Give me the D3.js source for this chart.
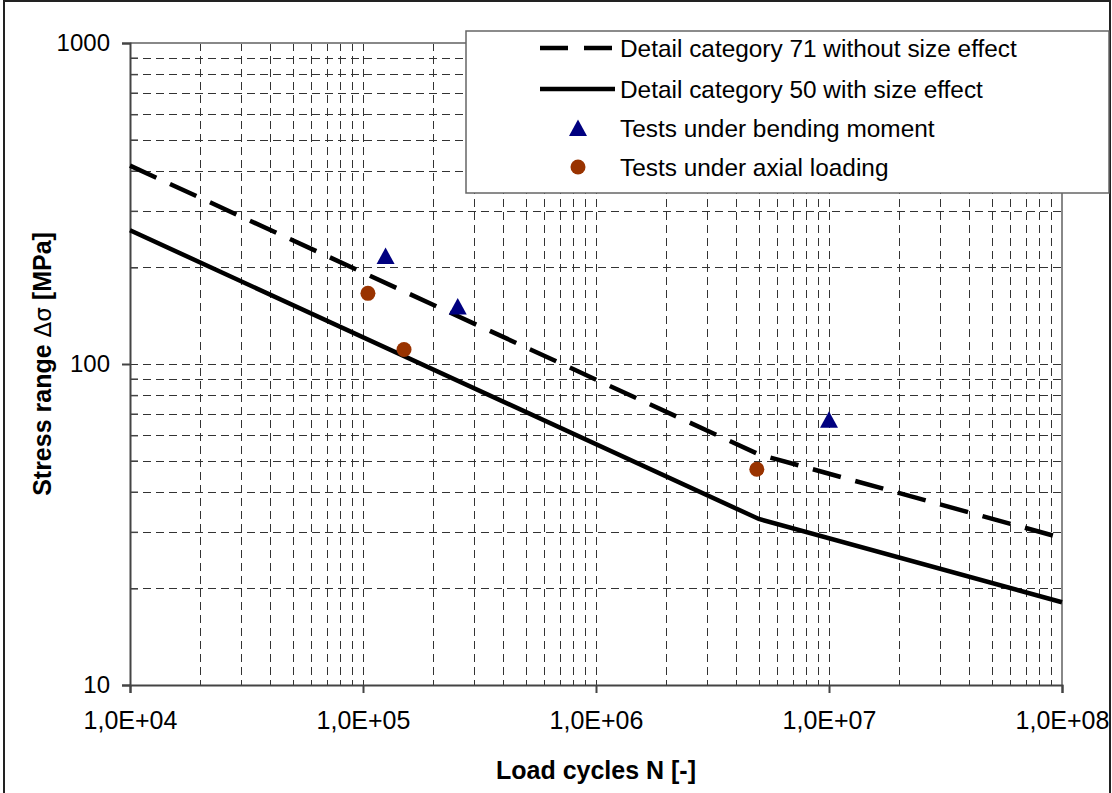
<!DOCTYPE html>
<html>
<head>
<meta charset="utf-8">
<script src="https://cdn.jsdelivr.net/npm/d3@7"></script>
<style>
    body { margin: 0; background: #fff; }
    svg { display: block; font-family: "Liberation Sans", Arial, sans-serif; }
</style>
</head>
<body>
<div id="chart"></div>
<script>
// tick values and labels
const xTickValues = [1e4, 1e5, 1e6, 1e7, 1e8];
const xTickLabels = ["1,0E+04", "1,0E+05", "1,0E+06", "1,0E+07", "1,0E+08"];
const yTickValues = [10, 100, 1000];
const yTickLabels = ["10", "100", "1000"];

// S-N curves [N, stress range]
const cat71NoSize = [[1e4, 415], [5e6, 52.3], [1e8, 28.7]];
const cat50Size = [[1e4, 261], [5e6, 32.9], [1e8, 18.1]];

// test results [N, stress range]
const bendingTests = [[1.25e5, 217], [2.55e5, 151], [1.0e7, 67]];
const axialTests = [[1.05e5, 166], [1.5e5, 111], [4.9e6, 47]];

const legendLabels = [
    "Detail category 71 without size effect",
    "Detail category 50 with size effect",
    "Tests under bending moment",
    "Tests under axial loading"
];

let width = 1112, height = 793;
let plot = {left: 130, top: 43, right: 1062, bottom: 685};

let svg = d3.select("#chart").append("svg")
    .attr("width", width)
    .attr("height", height);

// outer frame
svg.append("rect")
    .attr("x", 4).attr("y", 1)
    .attr("width", 1106).attr("height", 800)
    .attr("fill", "#fff")
    .attr("stroke", "#222")
    .attr("stroke-width", 2);

let xScale = d3.scaleLog().domain([1e4, 1e8]).range([plot.left, plot.right]);
let yScale = d3.scaleLog().domain([10, 1000]).range([plot.bottom, plot.top]);

let grid = svg.append("g")
    .attr("stroke", "#333")
    .attr("stroke-width", 1)
    .attr("stroke-dasharray", "8,5")
    .attr("shape-rendering", "crispEdges");

grid.selectAll(".vgrid")
    .data(xScale.ticks().filter(function(d){ return d > 1e4 && d < 1e8; }))
    .enter().append("line")
    .attr("class", "vgrid")
    .attr("x1", function(d){ return Math.round(xScale(d)) + 0.5; })
    .attr("x2", function(d){ return Math.round(xScale(d)) + 0.5; })
    .attr("y1", plot.top)
    .attr("y2", plot.bottom);

grid.selectAll(".hgrid")
    .data(yScale.ticks().filter(function(d){ return d > 10 && d < 1000; }))
    .enter().append("line")
    .attr("class", "hgrid")
    .attr("x1", plot.left)
    .attr("x2", plot.right)
    .attr("y1", function(d){ return Math.round(yScale(d)) + 0.5; })
    .attr("y2", function(d){ return Math.round(yScale(d)) + 0.5; });

// top and right border of the plot area
svg.append("path")
    .attr("d", "M" + plot.left + "," + plot.top + "H" + plot.right + "V" + plot.bottom)
    .attr("fill", "none")
    .attr("stroke", "#888")
    .attr("stroke-width", 2);

// y axis: major ticks outside, minor ticks inside
let yAxis = svg.append("g")
    .attr("transform", "translate(" + plot.left + ",0)")
    .call(d3.axisLeft(yScale)
        .tickValues(yTickValues)
        .tickSize(8)
        .tickPadding(12)
        .tickFormat(function(d, i){ return yTickLabels[i]; }));
yAxis.selectAll(".tick text")
    .attr("font-size", 24)
    .attr("font-family", "Liberation Sans, Arial, sans-serif")
    .attr("fill", "#000");
yAxis.selectAll("line, path").attr("stroke", "#444").attr("stroke-width", 2);

svg.append("g")
    .attr("transform", "translate(" + plot.left + ",0)")
    .call(d3.axisRight(yScale)
        .tickValues(yScale.ticks().filter(function(d){ return yTickValues.indexOf(d) < 0; }))
        .tickSize(8)
        .tickFormat(""))
    .call(function(g){ g.select(".domain").remove(); })
    .selectAll("line").attr("stroke", "#444").attr("stroke-width", 1.5);

// x axis
let xAxis = svg.append("g")
    .attr("transform", "translate(0," + plot.bottom + ")")
    .call(d3.axisBottom(xScale)
        .tickValues(xTickValues)
        .tickSize(8)
        .tickPadding(18)
        .tickFormat(function(d, i){ return xTickLabels[i]; }));
xAxis.selectAll(".tick text")
    .attr("font-size", 25)
    .attr("font-family", "Liberation Sans, Arial, sans-serif")
    .attr("fill", "#000");
xAxis.selectAll("line, path").attr("stroke", "#444").attr("stroke-width", 2);

// axis titles
svg.append("text")
    .attr("x", (plot.left + plot.right) / 2)
    .attr("y", 779)
    .attr("text-anchor", "middle")
    .attr("font-size", 25)
    .attr("font-weight", "bold")
    .text("Load cycles N [-]");

let yTitle = svg.append("text")
    .attr("transform", "translate(51," + ((plot.top + plot.bottom) / 2) + ") rotate(-90)")
    .attr("text-anchor", "middle")
    .attr("font-size", 25)
    .attr("font-weight", "bold");
yTitle.append("tspan").text("Stress range ");
yTitle.append("tspan").attr("font-weight", "normal").attr("font-family", "DejaVu Sans").attr("font-size", 23).text("\u0394\u03c3");
yTitle.append("tspan").text(" [MPa]");

// curves
let line = d3.line()
    .x(function(d){ return xScale(d[0]); })
    .y(function(d){ return yScale(d[1]); });

svg.append("path")
    .datum(cat71NoSize)
    .attr("d", line)
    .attr("fill", "none")
    .attr("stroke", "#000")
    .attr("stroke-width", 4.5)
    .attr("stroke-dasharray", "29,15");

svg.append("path")
    .datum(cat50Size)
    .attr("d", line)
    .attr("fill", "none")
    .attr("stroke", "#000")
    .attr("stroke-width", 4.5);

let trianglePath = "M0,-8.5L9,8L-9,8Z";

svg.selectAll(".bending")
    .data(bendingTests)
    .enter().append("path")
    .attr("class", "bending")
    .attr("d", trianglePath)
    .attr("fill", "#000080")
    .attr("transform", function(d){ return "translate(" + xScale(d[0]) + "," + yScale(d[1]) + ")"; });

svg.selectAll(".axial")
    .data(axialTests)
    .enter().append("circle")
    .attr("class", "axial")
    .attr("r", 7.5)
    .attr("fill", "#993300")
    .attr("cx", function(d){ return xScale(d[0]); })
    .attr("cy", function(d){ return yScale(d[1]); });

// legend
let legend = svg.append("g");
legend.append("rect")
    .attr("x", 466).attr("y", 31)
    .attr("width", 643).attr("height", 162)
    .attr("fill", "#fff")
    .attr("stroke", "#666")
    .attr("stroke-width", 1.5);

let rowY = [48, 89, 128, 167];

legend.append("line")
    .attr("x1", 540).attr("x2", 613)
    .attr("y1", rowY[0]).attr("y2", rowY[0])
    .attr("stroke", "#000").attr("stroke-width", 4.5)
    .attr("stroke-dasharray", "28,16");
legend.append("line")
    .attr("x1", 540).attr("x2", 615)
    .attr("y1", rowY[1]).attr("y2", rowY[1])
    .attr("stroke", "#000").attr("stroke-width", 4.5);
legend.append("path")
    .attr("d", trianglePath)
    .attr("fill", "#000080")
    .attr("transform", "translate(578," + rowY[2] + ")");
legend.append("circle")
    .attr("cx", 578).attr("cy", rowY[3]).attr("r", 7.5)
    .attr("fill", "#993300");

legend.selectAll(".label")
    .data(legendLabels)
    .enter().append("text")
    .attr("class", "label")
    .attr("x", 620)
    .attr("y", function(d, i){ return rowY[i] + 8.5; })
    .attr("font-size", 24.4)
    .text(function(d){ return d; });
</script>
</body>
</html>
